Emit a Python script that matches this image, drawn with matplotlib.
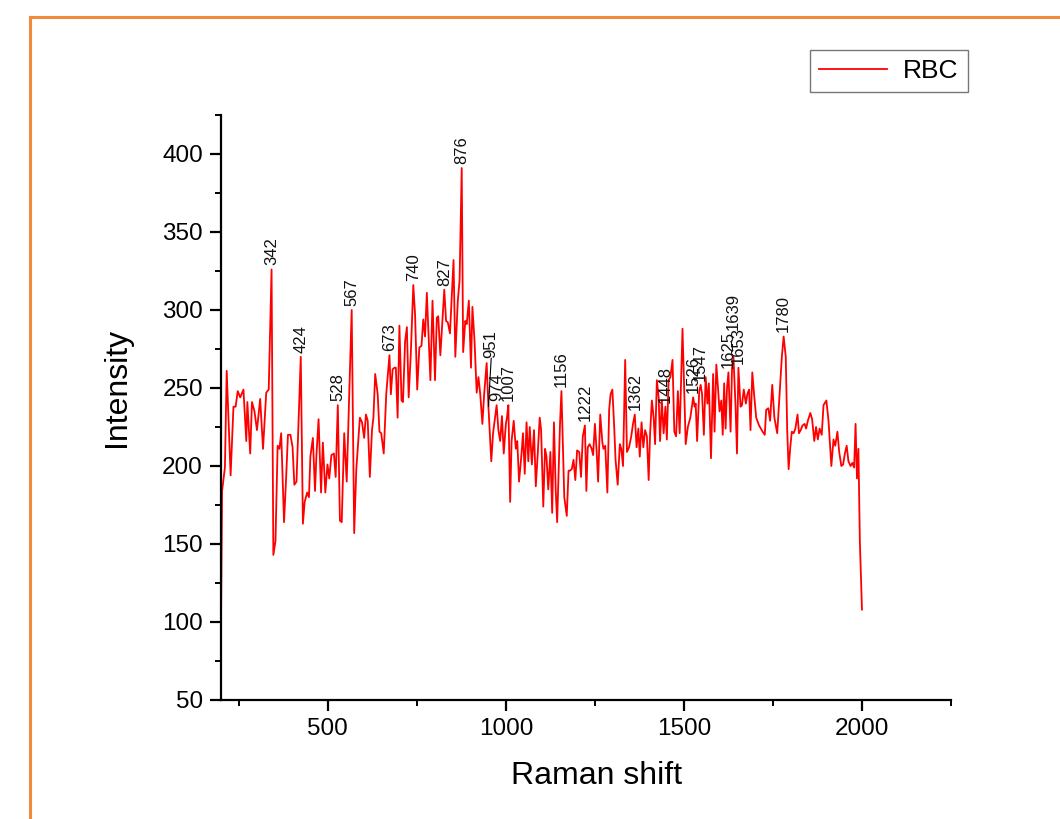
import matplotlib
matplotlib.use("Agg")
import matplotlib.pyplot as plt
from matplotlib.ticker import MultipleLocator
from matplotlib.lines import Line2D

plt.rcParams["font.family"] = ["Liberation Sans", "DejaVu Sans"]

# Raman spectrum of red blood cells
raman_shift = [
    200, 203, 211, 216, 227, 235, 241, 247, 254, 263, 271, 274, 282, 287, 294, 301, 310, 318, 327, 334,
    342, 347, 353, 359, 364, 369, 377, 383, 388, 395, 401, 406, 412, 424, 430, 435, 442, 447, 451, 458,
    464, 468, 474, 481, 486, 493, 499, 504, 510, 517, 522, 528, 534, 539, 546, 553, 567, 574, 580, 590,
    596, 602, 607, 612, 618, 624, 628, 633, 640, 645, 650, 657, 664, 673, 677, 682, 687, 691, 696, 701,
    707, 711, 717, 722, 727, 733, 740, 745, 751, 757, 763, 768, 773, 778, 788, 794, 801, 806, 810, 816,
    827, 832, 837, 843, 853, 858, 865, 870, 876, 880, 886, 890, 896, 902, 906, 912, 918, 923, 928, 934,
    939, 946, 951, 959, 964, 974, 979, 984, 989, 994, 1000, 1003, 1007, 1012, 1016, 1022, 1028, 1032, 1037, 1044,
    1048, 1053, 1058, 1063, 1067, 1073, 1079, 1084, 1089, 1095, 1099, 1105, 1110, 1114, 1119, 1125, 1130, 1135, 1140, 1144,
    1148, 1152, 1156, 1164, 1171, 1176, 1180, 1185, 1190, 1195, 1200, 1206, 1211, 1216, 1222, 1226, 1230, 1235, 1241, 1245,
    1250, 1255, 1259, 1265, 1271, 1274, 1279, 1285, 1290, 1294, 1299, 1304, 1308, 1314, 1320, 1324, 1329, 1335, 1340, 1346,
    1352, 1357, 1362, 1367, 1372, 1376, 1381, 1386, 1391, 1396, 1401, 1405, 1410, 1415, 1419, 1424, 1429, 1433, 1438, 1443,
    1448, 1452, 1457, 1462, 1468, 1473, 1478, 1483, 1488, 1496, 1505, 1511, 1518, 1526, 1530, 1533, 1537, 1543, 1547, 1551,
    1556, 1561, 1566, 1570, 1576, 1582, 1586, 1591, 1596, 1600, 1605, 1609, 1613, 1617, 1621, 1625, 1631, 1635, 1639, 1645,
    1649, 1653, 1659, 1663, 1668, 1674, 1678, 1683, 1687, 1692, 1697, 1703, 1711, 1721, 1727, 1731, 1737, 1742, 1748, 1754,
    1762, 1768, 1775, 1780, 1786, 1790, 1794, 1799, 1803, 1808, 1813, 1819, 1823, 1828, 1833, 1839, 1843, 1848, 1855, 1860,
    1866, 1871, 1876, 1881, 1887, 1892, 1900, 1906, 1914, 1920, 1925, 1931, 1936, 1942, 1947, 1952, 1957, 1962, 1968, 1973,
    1978, 1982, 1986, 1990, 1994, 2000,
]
intensity = [
    100, 184, 199, 261, 194, 238, 238, 248, 244, 249, 216, 241, 208, 241, 235, 223, 243, 211, 247, 249,
    326, 143, 152, 213, 211, 221, 164, 193, 220, 220, 212, 188, 190, 270, 163, 177, 183, 180, 206, 218,
    184, 207, 230, 183, 215, 183, 201, 192, 207, 208, 193, 239, 165, 164, 221, 190, 300, 157, 198, 231,
    228, 218, 233, 229, 193, 223, 231, 259, 246, 222, 221, 208, 246, 271, 246, 262, 263, 263, 231, 290,
    242, 241, 280, 289, 244, 272, 316, 297, 249, 276, 277, 294, 283, 311, 255, 306, 255, 295, 296, 271,
    313, 293, 292, 285, 332, 270, 306, 319, 391, 273, 293, 291, 306, 263, 302, 280, 247, 257, 246, 227,
    246, 266, 238, 203, 221, 239, 223, 216, 232, 208, 227, 231, 239, 177, 216, 229, 211, 216, 190, 208,
    221, 195, 228, 203, 225, 201, 223, 187, 206, 231, 223, 174, 211, 206, 185, 209, 170, 228, 184, 164,
    195, 227, 248, 180, 168, 197, 197, 198, 204, 191, 210, 209, 193, 219, 226, 184, 212, 214, 211, 207,
    227, 209, 190, 233, 215, 211, 213, 183, 236, 246, 249, 226, 204, 188, 214, 211, 200, 268, 209, 212,
    219, 227, 233, 212, 224, 206, 228, 212, 223, 219, 191, 221, 242, 231, 214, 255, 244, 216, 242, 221,
    238, 217, 255, 257, 268, 222, 219, 248, 221, 288, 214, 225, 231, 244, 238, 240, 216, 248, 252, 246,
    220, 257, 240, 253, 205, 259, 222, 265, 249, 235, 242, 220, 253, 224, 250, 260, 222, 262, 270, 238,
    208, 263, 238, 239, 249, 240, 246, 249, 223, 260, 246, 231, 226, 222, 220, 236, 237, 229, 252, 231,
    221, 244, 270, 283, 270, 223, 198, 213, 222, 221, 224, 233, 221, 223, 226, 227, 224, 229, 234, 230,
    216, 225, 217, 224, 220, 239, 242, 229, 200, 217, 213, 222, 209, 200, 201, 208, 213, 203, 200, 202,
    199, 227, 192, 211, 152, 108,
]

# Peak positions marked on the spectrum
peak_labels = [342, 424, 528, 567, 673, 740, 827, 876, 951, 974, 1007, 1156, 1222, 1362,
               1448, 1526, 1547, 1625, 1639, 1653, 1780]

fig = plt.figure(figsize=(10.6, 8.19), dpi=100)
fig.patch.set_facecolor("white")
ax = fig.add_axes([221 / 1060, 1 - 700 / 819, 730 / 1060, 585 / 819])

ax.plot(raman_shift, intensity, color="#ff0000", lw=1.3, label="RBC")

ax.set_xlim(200, 2250)
ax.set_ylim(50, 425)
ax.xaxis.set_major_locator(MultipleLocator(500))
ax.xaxis.set_minor_locator(MultipleLocator(250))
ax.yaxis.set_major_locator(MultipleLocator(50))
ax.yaxis.set_minor_locator(MultipleLocator(25))

for side in ("top", "right"):
    ax.spines[side].set_visible(False)
for side in ("left", "bottom"):
    ax.spines[side].set_linewidth(1.6)
ax.tick_params(which="major", direction="out", length=8, width=1.6, labelsize=17.5, pad=5)
ax.tick_params(which="minor", direction="out", length=4.5, width=1.4)

ax.set_xlabel("Raman shift", fontsize=23)
ax.set_ylabel("Intensity", fontsize=23)
ax.xaxis.set_label_coords(0.515, -0.105)
ax.yaxis.set_label_coords(-0.122, 0.535)

# peak annotations (vertical text just above each marked point)
nudge = {951: (2, 32), 1639: (0, 16)}
lookup = dict(zip(raman_shift, intensity))
for p in peak_labels:
    yv = lookup[p]
    dx, dy = nudge.get(p, (0, 0))
    ax.annotate(str(p), xy=(p, yv), xytext=(dx, 3 + dy), textcoords="offset points",
                rotation=90, ha="center", va="bottom", fontsize=12, color="#111111")
    if p == 951:
        ax.annotate("", xy=(p, yv), xytext=(dx, 3 + dy), textcoords="offset points",
                    arrowprops=dict(arrowstyle="-", color="black", lw=0.8, shrinkA=0, shrinkB=0))

leg = ax.legend(loc="upper right", bbox_to_anchor=(968 / 1060, 1 - 50 / 819),
                bbox_transform=fig.transFigure, borderaxespad=0, fontsize=19,
                frameon=True, fancybox=False, handlelength=2.6, handletextpad=0.6,
                borderpad=0.35)
leg.get_frame().set_edgecolor("#555555")
leg.get_frame().set_linewidth(1.0)

# orange page frame
fig.add_artist(Line2D([30 / 1060, 1.0], [1 - 17 / 819, 1 - 17 / 819], transform=fig.transFigure,
                      color="#f08a3c", lw=2.2))
fig.add_artist(Line2D([30 / 1060, 30 / 1060], [0.0, 1 - 17 / 819], transform=fig.transFigure,
                      color="#f08a3c", lw=2.2))

fig.savefig("out.png", dpi=100)
